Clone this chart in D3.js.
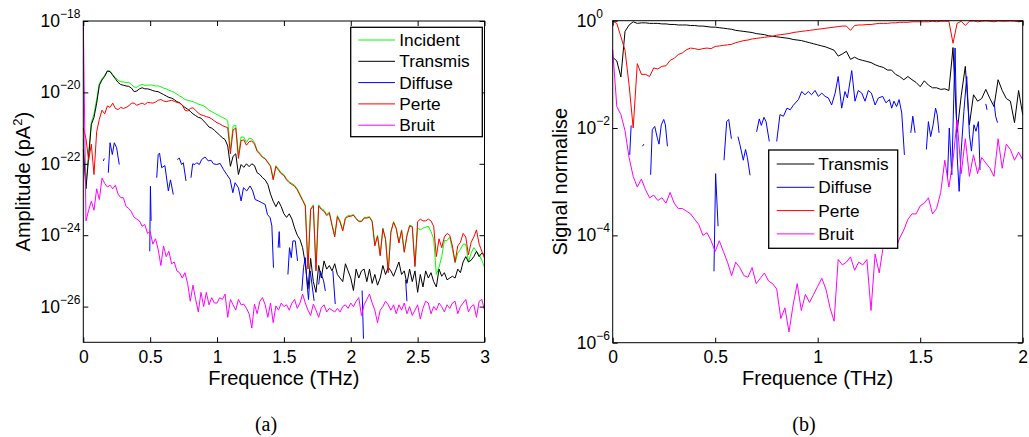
<!DOCTYPE html>
<html><head><meta charset="utf-8">
<script src="https://cdn.jsdelivr.net/npm/d3@7"></script>
<style>body{margin:0;background:#fff}svg{display:block}</style>
</head><body>
<svg id="chart" width="1029" height="437"></svg>
<script>
// ---------- Panel (a): amplitude spectra, values are log10(pA^2) ----------
const freqA = [0,0.02,0.04,0.06,0.08,0.1,0.12,0.14,0.16,0.18,
0.2,0.22,0.24,0.26,0.28,0.3,0.32,0.34,0.36,0.38,
0.4,0.42,0.44,0.46,0.48,0.5,0.52,0.54,0.56,0.58,
0.6,0.62,0.64,0.66,0.68,0.7,0.72,0.74,0.76,0.78,
0.8,0.82,0.84,0.86,0.88,0.9,0.92,0.94,0.96,0.98,
1,1.02,1.04,1.06,1.08,1.1,1.12,1.14,1.16,1.18,
1.2,1.22,1.24,1.26,1.28,1.3,1.32,1.34,1.36,1.38,
1.4,1.42,1.44,1.46,1.48,1.5,1.52,1.54,1.56,1.58,
1.6,1.62,1.64,1.66,1.68,1.7,1.72,1.74,1.76,1.78,
1.8,1.82,1.84,1.86,1.88,1.9,1.92,1.94,1.96,1.98,
2,2.02,2.04,2.06,2.08,2.1,2.12,2.14,2.16,2.18,
2.2,2.22,2.24,2.26,2.28,2.3,2.32,2.34,2.36,2.38,
2.4,2.42,2.44,2.46,2.48,2.5,2.52,2.54,2.56,2.58,
2.6,2.62,2.64,2.66,2.68,2.7,2.72,2.74,2.76,2.78,
2.8,2.82,2.84,2.86,2.88,2.9,2.92,2.94,2.96,2.98,
3];
const incidentA = [-21.3,-22.6,-21.7,-20.85,-20.6,-20.2,-19.75,-19.62,-19.52,-19.4,
-19.4,-19.5,-19.58,-19.66,-19.7,-19.71,-19.72,-19.72,-19.78,-19.85,
-19.86,-19.8,-19.78,-19.8,-19.8,-19.79,-19.8,-19.82,-19.82,-19.84,
-19.88,-19.9,-19.94,-19.97,-20.0,-20.05,-20.1,-20.14,-20.2,-20.22,
-20.24,-20.26,-20.29,-20.33,-20.35,-20.38,-20.43,-20.5,-20.54,-20.58,
-20.62,-20.66,-20.7,-20.74,-20.8,-21.6,-20.95,-20.92,-21.75,-21.25,
-21.25,-21.4,-21.28,-21.3,-21.4,-21.62,-21.7,-21.8,-21.85,-21.95,
-22.05,-22.42,-22.05,-22.15,-22.25,-22.3,-22.42,-22.5,-22.55,-22.6,
-22.7,-22.85,-23.0,-23.15,-24.9,-23.25,-23.15,-24.95,-23.15,-23.25,
-23.3,-23.42,-23.35,-23.7,-24.0,-23.45,-23.6,-23.85,-23.5,-23.45,
-23.45,-23.42,-23.52,-23.6,-23.6,-23.5,-23.5,-23.48,-23.6,-24.27,
-24.0,-24.55,-23.8,-24.1,-25.0,-23.9,-23.62,-23.8,-24.2,-23.85,
-24.45,-24.0,-23.72,-23.75,-24.85,-23.8,-23.85,-23.8,-23.78,-23.75,
-23.9,-24.1,-25.1,-24.9,-24.6,-24.15,-24.15,-24.05,-24.4,-24.78,
-24.5,-24.4,-24.25,-24.25,-24.75,-24.5,-24.35,-24.45,-24.55,-24.7,
-24.9];
const transmisA = [-21.6,-22.7,-21.8,-20.9,-20.7,-20.3,-19.8,-19.65,-19.55,-19.4,
-19.42,-19.52,-19.62,-19.72,-19.78,-19.8,-19.82,-19.83,-19.88,-19.98,
-19.96,-19.9,-19.87,-19.9,-19.9,-19.92,-19.95,-19.97,-19.98,-20.02,
-20.06,-20.1,-20.14,-20.16,-20.2,-20.26,-20.29,-20.36,-20.42,-20.47,
-20.53,-20.6,-20.65,-20.7,-20.72,-20.8,-20.88,-20.97,-21.0,-21.06,
-21.13,-21.2,-21.27,-21.32,-21.5,-22.07,-21.79,-21.72,-22.3,-22.02,
-22.1,-22.0,-22.08,-22.0,-22.05,-22.25,-22.3,-22.39,-22.45,-22.58,
-22.85,-23.05,-23.2,-23.05,-23.2,-23.4,-23.5,-23.4,-23.55,-23.8,
-24.0,-24.12,-24.35,-24.8,-25.5,-24.65,-25.3,-25.6,-24.85,-25.2,
-24.72,-24.95,-24.85,-25.0,-24.8,-25.1,-25.2,-25.3,-24.8,-25.0,
-25.2,-25.55,-24.95,-25.2,-25.0,-24.95,-25.3,-24.95,-25.35,-25.1,
-25.4,-25.2,-24.85,-25.1,-24.9,-25.0,-25.15,-24.95,-24.75,-25.1,
-25.0,-25.35,-24.95,-25.3,-25.0,-25.6,-25.1,-25.45,-25.0,-25.2,
-25.05,-25.3,-25.45,-24.95,-25.15,-25.05,-25.25,-25.2,-25.15,-25.2,
-24.95,-25.05,-24.75,-24.6,-24.75,-24.7,-24.6,-24.45,-24.6,-24.5,
-24.55];
const perteA = [-21.0,-21.3,-21.9,-21.45,-22.3,-21.1,-20.75,-20.5,-20.6,-20.38,
-20.42,-20.3,-20.45,-20.48,-20.42,-20.45,-20.42,-20.38,-20.3,-20.3,
-20.36,-20.33,-20.3,-20.34,-20.28,-20.29,-20.3,-20.27,-20.22,-20.2,
-20.24,-20.26,-20.24,-20.22,-20.25,-20.28,-20.3,-20.35,-20.5,-20.52,
-20.45,-20.43,-20.5,-20.58,-20.63,-20.65,-20.68,-20.7,-20.74,-20.8,
-20.85,-20.88,-20.93,-20.96,-20.99,-21.72,-21.05,-21.0,-21.85,-21.35,
-21.33,-21.48,-21.38,-21.36,-21.45,-21.65,-21.73,-21.82,-21.86,-21.97,
-22.07,-22.45,-22.08,-22.18,-22.28,-22.33,-22.45,-22.53,-22.58,-22.63,
-22.73,-22.88,-23.03,-23.18,-24.95,-23.28,-23.18,-25.0,-23.18,-23.28,
-23.33,-23.45,-23.38,-23.73,-24.05,-23.48,-23.63,-23.88,-23.53,-23.48,
-23.47,-23.44,-23.54,-23.62,-23.62,-23.52,-23.52,-23.5,-23.62,-24.3,
-24.03,-24.58,-23.82,-24.12,-25.05,-23.92,-23.64,-23.82,-24.22,-23.87,
-24.48,-24.02,-23.74,-23.77,-24.88,-23.62,-23.55,-23.6,-23.6,-23.55,
-23.6,-23.75,-24.6,-24.1,-24.35,-24.05,-23.95,-24.0,-24.3,-24.75,
-24.3,-24.2,-23.95,-24.05,-24.55,-24.2,-24.05,-23.85,-24.25,-24.45,
-24.65];
const bruitA = [-18.0,-23.6,-23.3,-23.05,-23.3,-22.7,-23.0,-22.4,-22.55,-22.65,
-22.6,-22.7,-22.6,-22.85,-22.95,-22.95,-23.2,-23.25,-23.35,-23.5,
-23.55,-23.6,-23.75,-23.7,-23.95,-23.9,-24.25,-24.1,-24.4,-24.85,
-24.3,-24.6,-24.45,-24.8,-24.75,-25.0,-25.05,-25.2,-25.05,-25.35,
-25.85,-25.4,-25.8,-26.15,-25.6,-26.0,-25.6,-25.95,-25.75,-25.9,
-25.9,-25.75,-25.8,-25.65,-26.3,-25.8,-25.95,-26.1,-25.8,-25.95,
-25.93,-26.05,-26.2,-26.6,-25.93,-26.2,-25.85,-25.75,-25.95,-26.3,
-25.9,-26.45,-25.98,-26.1,-25.9,-26.0,-25.95,-26.1,-25.9,-25.8,
-26.05,-25.9,-25.65,-25.9,-26.1,-26.25,-25.93,-26.1,-26.3,-26.03,
-25.95,-26.15,-26.05,-26.1,-26.15,-26.05,-26.15,-26.0,-25.95,-26.05,
-25.9,-26.0,-25.85,-25.75,-26.25,-25.95,-25.8,-25.65,-25.9,-26.1,
-26.45,-26.1,-26.0,-25.85,-25.95,-26.1,-25.95,-26.2,-25.95,-26.1,
-25.9,-26.2,-26.0,-26.25,-26.1,-25.95,-26.35,-26.05,-25.85,-25.9,
-26.2,-26.0,-26.1,-25.9,-26.0,-26.15,-25.95,-26.05,-25.9,-25.85,
-26.2,-26.0,-25.9,-25.8,-26.15,-26.0,-25.95,-26.3,-25.85,-25.8,
-26.1];
// Diffuse is gappy (null = gap)
const diffuseFreqA = [0.15,0.157,null,0.187,0.2,0.217,0.232,0.249,0.269,null,
0.497,0.502,0.507,null,0.549,0.56,0.57,0.586,0.61,0.636,0.652,0.673,null,
0.703,0.718,0.735,0.748,0.768,null,
0.805,0.818,0.835,0.848,0.868,0.885,0.91,0.935,0.955,0.973,0.998,1.023,1.048,1.073,1.098,1.118,1.135,1.16,1.18,1.198,1.222,1.247,1.267,1.285,1.31,1.335,1.36,1.377,1.397,1.41,1.422,null,
1.457,1.465,1.47,null,1.53,1.542,1.555,1.567,1.585,1.602,null,
1.634,1.647,1.66,1.672,1.684,1.697,1.71,1.726,null,1.76,1.772,1.797,1.81,null,
1.866,1.884,null,2.085,2.095,null,2.41,2.42];
const diffuseA = [-21.92,-21.85,null,-22.25,-21.41,-21.74,-21.41,-21.55,-22.02,null,
-24.45,-22.63,-23.6,null,-22.39,-21.74,-21.7,-22.11,-22.05,-22.76,-22.45,-22.86,null,
-21.88,-21.84,-22.02,-21.97,-22.48,null,
-22.39,-22.0,-22.02,-21.97,-22.02,-21.88,-21.81,-21.92,-21.9,-22.0,-22.02,-21.99,-22.16,-22.3,-22.44,-22.81,-22.53,-22.67,-23.04,-22.67,-22.76,-22.62,-22.76,-23.0,-23.04,-23.09,-23.14,-23.42,-23.51,-23.74,-24.91,null,
-24.35,-23.9,-24.35,null,-25.1,-24.35,-24.63,-24.16,-24.16,-24.72,null,
-25.56,-24.9,-24.63,-25.3,-25.8,-25.0,-25.38,-25.84,null,-25.38,-25.0,-25.28,-25.56,null,
-25.0,-25.93,null,-25.55,-26.9,null,-25.25,-25.85];
const xTicksA = [0,0.5,1,1.5,2,2.5,3];
const yTicksA = [1e-26,1e-24,1e-22,1e-20,1e-18];
const legendA = ["Incident","Transmis","Diffuse","Perte","Bruit"];

// ---------- Panel (b): normalised signals, values are log10 ----------
const freqB = [0,0.02,0.04,0.06,0.08,0.1,0.12,0.14,0.16,0.18,
0.2,0.22,0.24,0.26,0.28,0.3,0.32,0.34,0.36,0.38,
0.4,0.42,0.44,0.46,0.48,0.5,0.52,0.54,0.56,0.58,
0.6,0.62,0.64,0.66,0.68,0.7,0.72,0.74,0.76,0.78,
0.8,0.82,0.84,0.86,0.88,0.9,0.92,0.94,0.96,0.98,
1,1.02,1.04,1.06,1.08,1.1,1.12,1.14,1.16,1.18,
1.2,1.22,1.24,1.26,1.28,1.3,1.32,1.34,1.36,1.38,
1.4,1.42,1.44,1.46,1.48,1.5,1.52,1.54,1.56,1.58,
1.6,1.62,1.64,1.66,1.68,1.7,1.72,1.74,1.76,1.78,
1.8,1.82,1.84,1.86,1.88,1.9,1.92,1.94,1.96,1.98,
2];
const transmisB = [-0.68,-0.75,-1.05,-0.2,-0.08,-0.02,-0.05,-0.04,-0.04,-0.05,
-0.05,-0.05,-0.06,-0.06,-0.07,-0.07,-0.08,-0.08,-0.08,-0.09,
-0.09,-0.1,-0.1,-0.11,-0.12,-0.12,-0.13,-0.14,-0.15,-0.16,
-0.18,-0.19,-0.2,-0.21,-0.22,-0.24,-0.25,-0.26,-0.28,-0.29,
-0.3,-0.31,-0.32,-0.33,-0.35,-0.36,-0.37,-0.39,-0.41,-0.43,
-0.45,-0.47,-0.49,-0.52,-0.55,-0.66,-0.62,-0.57,-0.72,-0.68,
-0.72,-0.74,-0.76,-0.78,-0.82,-0.85,-0.87,-0.92,-0.92,-1.0,
-1.04,-1.1,-1.04,-1.1,-1.15,-1.23,-1.12,-1.2,-1.25,-1.25,
-1.28,-1.27,-1.3,-0.5,-2.08,-1.4,-0.85,-1.94,-1.38,-1.5,
-1.45,-1.28,-1.45,-1.6,-1.1,-1.3,-1.45,-1.5,-1.9,-1.3,
-1.75];
const perteB = [-0.01,-0.05,-0.3,-0.55,-1.2,-2.0,-0.8,-1.0,-1.0,-1.04,
-0.88,-0.9,-0.85,-0.84,-0.74,-0.7,-0.63,-0.6,-0.54,-0.51,
-0.52,-0.54,-0.52,-0.51,-0.52,-0.48,-0.47,-0.46,-0.45,-0.44,
-0.41,-0.39,-0.37,-0.36,-0.34,-0.33,-0.32,-0.31,-0.3,-0.29,
-0.27,-0.26,-0.25,-0.24,-0.22,-0.21,-0.2,-0.19,-0.18,-0.17,
-0.16,-0.15,-0.14,-0.13,-0.12,-0.11,-0.1,-0.1,-0.18,-0.09,
-0.08,-0.08,-0.07,-0.07,-0.06,-0.05,-0.05,-0.05,-0.04,-0.04,
-0.03,-0.03,-0.03,-0.02,-0.02,-0.02,-0.02,-0.02,-0.01,-0.02,
-0.01,-0.01,-0.01,-0.42,-0.05,-0.01,-0.09,-0.01,-0.005,-0.02,
-0.01,-0.005,-0.01,-0.02,-0.005,-0.01,-0.01,-0.005,-0.01,-0.02,
-0.01];
const bruitB = [-0.54,-1.6,-1.75,-2.05,-2.55,-2.9,-3.1,-2.95,-3.15,-3.3,
-3.25,-3.35,-3.3,-3.4,-3.2,-3.4,-3.5,-3.5,-3.55,-3.6,
-3.7,-3.8,-4.0,-3.95,-4.1,-4.3,-4.1,-4.3,-4.5,-4.75,
-4.5,-4.6,-4.75,-4.78,-4.6,-4.9,-4.8,-4.7,-4.85,-4.9,
-5.0,-5.55,-5.35,-5.8,-5.3,-4.9,-5.4,-5.1,-5.25,-5.1,
-4.95,-4.8,-5.0,-5.35,-5.6,-4.45,-4.55,-4.5,-4.4,-4.65,
-4.5,-4.55,-4.45,-5.4,-4.35,-4.7,-4.2,-4.25,-4.0,-4.25,
-4.05,-3.9,-3.7,-3.6,-3.6,-3.45,-3.4,-3.3,-3.6,-3.5,
-3.2,-2.6,-3.1,-2.6,-1.85,-2.85,-2.2,-2.9,-2.5,-2.85,
-2.55,-2.65,-2.75,-2.9,-2.2,-2.75,-2.3,-2.4,-2.6,-2.45,
-2.59];
const diffuseFreqB = [0.083,0.09,null,0.145,0.152,null,
0.185,0.193,0.205,0.218,0.226,0.237,0.249,0.257,0.267,null,
0.494,0.502,0.514,null,0.543,0.556,0.566,0.579,null,
0.611,0.62,0.637,0.648,0.657,0.67,null,0.702,0.715,0.725,0.738,0.748,0.764,null,
0.8,0.816,0.833,0.85,0.866,0.88,0.906,0.922,0.938,0.954,0.97,0.987,1.003,1.02,1.036,1.052,1.068,1.085,1.1,1.117,
1.133,1.145,1.166,1.182,1.198,1.215,1.231,1.247,1.262,1.28,1.296,1.317,1.333,1.35,1.361,1.372,1.385,1.397,1.41,1.423,null,
1.454,1.464,1.475,null,1.53,1.54,1.551,1.563,1.575,1.583,1.592,null,
1.633,1.642,1.654,1.67,1.681,1.69,1.7,1.713,1.727,1.74,1.75,1.762,1.772,1.784,1.792,null,
1.82,1.826,null,1.86,1.868,1.877];
const diffuseB = [-2.5,-1.95,null,-2.34,-2.3,null,
-2.87,-2.03,-1.97,-2.19,-2.3,-1.94,-1.84,-1.94,-2.34,null,
-4.67,-2.85,-3.83,null,-2.6,-1.88,-1.84,-2.2,null,
-2.16,-2.3,-2.6,-2.4,-2.55,-2.88,null,-2.07,-1.83,-1.95,-1.8,-1.88,-2.25,null,
-2.25,-1.75,-1.78,-1.63,-1.66,-1.58,-1.47,-1.32,-1.38,-1.32,-1.38,-1.3,-1.41,-1.35,-1.41,-1.44,-1.57,-1.35,-1.04,-1.63,
-1.32,-1.44,-0.93,-1.5,-1.3,-1.35,-1.5,-1.3,-1.35,-1.57,-1.44,-1.41,-1.53,-1.47,-1.63,-1.5,-1.6,-1.47,-1.72,-2.5,null,
-2.09,-1.78,-2.09,null,-2.4,-1.88,-2.16,-1.94,-1.63,-1.75,-2.09,null,
-2.93,-2.0,-2.87,-0.51,-2.56,-3.18,-2.43,-1.69,-1.04,-2.12,-2.43,-1.94,-2.06,-1.88,-2.78,null,
-1.55,-1.66,null,-1.5,-1.78,-1.9];
const xTicksB = [0,0.5,1,1.5,2];
const yTicksB = [1e-6,1e-4,1e-2,1];
const legendB = ["Transmis","Diffuse","Perte","Bruit"];

const colors = {Incident:"#00ff00", Transmis:"#000000", Diffuse:"#0000ff", Perte:"#ff0000", Bruit:"#ff00ff"};

// ---------- drawing ----------
const FONT = '"Liberation Sans", Arial, Helvetica, sans-serif';
const svg = d3.select("#chart");

function toPoints(fs, es) {
  return fs.map((f, i) => (f == null || es[i] == null) ? null : [f, Math.pow(10, es[i])]);
}

function drawPanel(o) {
  const g = svg.append("g");
  const x = d3.scaleLinear().domain(o.xDomain).range([o.left, o.right]);
  const y = d3.scaleLog().domain(o.yDomain).range([o.bottom, o.top]);

  svg.append("clipPath").attr("id", o.id)
    .append("rect").attr("x", o.left - 1).attr("y", o.top - 1)
    .attr("width", o.right - o.left + 2).attr("height", o.bottom - o.top + 2);

  const line = d3.line().defined(d => d != null).x(d => x(d[0])).y(d => y(d[1]));
  const plot = g.append("g").attr("clip-path", `url(#${o.id})`);
  o.series.forEach(s => {
    plot.append("path").datum(toPoints(s.f, s.v))
      .attr("d", line).attr("fill", "none")
      .attr("stroke", colors[s.name]).attr("stroke-width", 1)
      .attr("stroke-linejoin", "round");
  });

  const styleAxis = sel => {
    sel.select(".domain").remove();
    sel.selectAll(".tick line").attr("stroke", "#000").attr("stroke-width", 1);
    sel.selectAll("text").attr("font-family", FONT).attr("font-size", 17.5).attr("fill", "#000");
  };
  g.append("g").attr("transform", `translate(0,${o.bottom})`)
    .call(d3.axisBottom(x).tickValues(o.xTicks).tickSizeInner(-5).tickSizeOuter(0).tickPadding(8).tickFormat(d => String(d)))
    .call(styleAxis);
  g.append("g").attr("transform", `translate(0,${o.top})`)
    .call(d3.axisTop(x).tickValues(o.xTicks).tickSizeInner(-5).tickSizeOuter(0).tickFormat(""))
    .call(styleAxis);
  g.append("g").attr("transform", `translate(${o.left},0)`)
    .call(d3.axisLeft(y).tickValues(o.yTicks).tickSizeInner(-5).tickSizeOuter(0).tickFormat(""))
    .call(styleAxis);
  g.append("g").attr("transform", `translate(${o.right},0)`)
    .call(d3.axisRight(y).tickValues(o.yTicks).tickSizeInner(-5).tickSizeOuter(0).tickFormat(""))
    .call(styleAxis);

  o.yTicks.forEach(v => {
    const e = Math.round(Math.log10(v));
    const t = g.append("text").attr("x", o.yLabelX).attr("y", y(v) + 6)
      .attr("font-family", FONT).attr("font-size", 17.5).attr("fill", "#000");
    t.append("tspan").text("10");
    t.append("tspan").attr("dy", -9).attr("font-size", 12).text(String(e).replace("-", "\u2212"));
  });

  g.append("rect").attr("x", o.left).attr("y", o.top)
    .attr("width", o.right - o.left).attr("height", o.bottom - o.top)
    .attr("fill", "none").attr("stroke", "#000").attr("stroke-width", 1);

  g.append("text").attr("x", (o.left + o.right) / 2).attr("y", 385)
    .attr("text-anchor", "middle").attr("font-family", FONT).attr("font-size", 20)
    .text("Frequence (THz)");
  const yt = g.append("text")
    .attr("transform", `translate(${o.yTitleX},${(o.top + o.bottom) / 2}) rotate(-90)`)
    .attr("text-anchor", "middle").attr("font-family", FONT).attr("font-size", 20);
  o.yTitle(yt);

  g.append("text").attr("x", o.captionX).attr("y", 431).attr("text-anchor", "middle")
    .attr("font-family", '"Liberation Serif", "DejaVu Serif", serif').attr("font-size", 20)
    .text(o.caption);

  const L = o.legend;
  const lg = g.append("g");
  lg.append("rect").attr("x", L.x).attr("y", L.y).attr("width", L.w).attr("height", L.h)
    .attr("fill", "#fff").attr("stroke", "#000").attr("stroke-width", 1.3);
  L.items.forEach((name, i) => {
    const cy = L.y0 + i * L.dy;
    lg.append("line").attr("x1", L.lx1).attr("x2", L.lx2).attr("y1", cy).attr("y2", cy)
      .attr("stroke", colors[name]).attr("stroke-width", 1);
    lg.append("text").attr("x", L.tx).attr("y", cy + 6)
      .attr("font-family", FONT).attr("font-size", 17.3).text(name);
  });
}

drawPanel({
  id: "clipA", left: 83.3, right: 484.5, top: 21, bottom: 342.3,
  xDomain: [0, 3], yDomain: [1e-27, 1e-18], xTicks: xTicksA, yTicks: yTicksA,
  yLabelX: 40.5, yTitleX: 30, captionX: 266, caption: "(a)",
  yTitle: t => { t.append("tspan").text("Amplitude (pA"); t.append("tspan").attr("dy", -8).attr("font-size", 13).text("2"); t.append("tspan").attr("dy", 8).text(")"); },
  series: [
    {name: "Incident", f: freqA, v: incidentA},
    {name: "Transmis", f: freqA, v: transmisA},
    {name: "Diffuse", f: diffuseFreqA, v: diffuseA},
    {name: "Perte", f: freqA, v: perteA},
    {name: "Bruit", f: freqA, v: bruitA}
  ],
  legend: {items: legendA, x: 350.7, y: 27.3, w: 131.6, h: 109.4, y0: 40, dy: 21.3, lx1: 358.3, lx2: 395, tx: 399.3}
});

drawPanel({
  id: "clipB", left: 612.7, right: 1022.7, top: 20.7, bottom: 342.7,
  xDomain: [0, 2], yDomain: [1e-6, 1], xTicks: xTicksB, yTicks: yTicksB,
  yLabelX: 576.7, yTitleX: 567, captionX: 804, caption: "(b)",
  yTitle: t => t.text("Signal normalise"),
  series: [
    {name: "Transmis", f: freqB, v: transmisB},
    {name: "Diffuse", f: diffuseFreqB, v: diffuseB},
    {name: "Perte", f: freqB, v: perteB},
    {name: "Bruit", f: freqB, v: bruitB}
  ],
  legend: {items: legendB, x: 768.7, y: 150, w: 129, h: 98.3, y0: 164, dy: 23.3, lx1: 776.7, lx2: 814.3, tx: 818.3}
});
</script>
</body></html>
